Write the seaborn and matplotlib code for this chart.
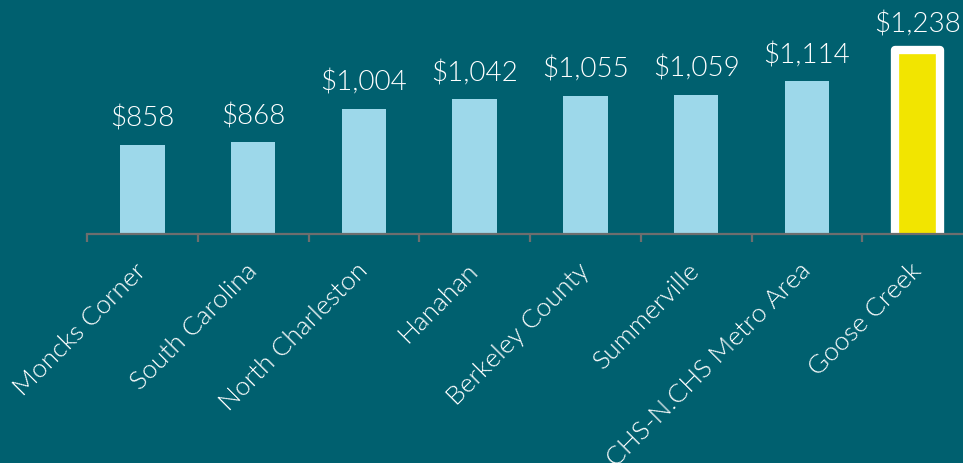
import matplotlib
matplotlib.use("Agg")
import matplotlib.pyplot as plt
import numpy as np
import pandas as pd
import seaborn as sns

# Median gross rent by place
places = [
    "Moncks Corner",
    "South Carolina",
    "North Charleston",
    "Hanahan",
    "Berkeley County",
    "Summerville",
    "CHS-N.CHS Metro Area",
    "Goose Creek",
]
rents = [858, 868, 1004, 1042, 1055, 1059, 1114, 1238]
highlight = "Goose Creek"

BG = "#00606f"
BAR = "#9dd8ea"
HIGHLIGHT = "#f2e500"
AXIS = "#6e6e6e"

sns.set_theme(style="white")
plt.rcParams["font.family"] = ["Lato", "DejaVu Sans"]

df = pd.DataFrame({"place": places, "rent": rents})
colors = [HIGHLIGHT if p == highlight else BAR for p in places]

fig = plt.figure(figsize=(9.63, 4.63), dpi=100, facecolor=BG)
ax = fig.add_axes([87 / 963, (463 - 234) / 463, (973 - 87) / 963, 234 / 463])
ax.set_facecolor(BG)

sns.barplot(data=df, x="place", y="rent", hue="place", palette=colors,
            width=0.4, saturation=1, legend=False, ax=ax, linewidth=0)

ax.set_xlim(-0.5, len(places) - 0.5)
ax.set_ylim(500, 1441)

for spine in ["top", "right", "left"]:
    ax.spines[spine].set_visible(False)
ax.spines["bottom"].set_color(AXIS)
ax.spines["bottom"].set_linewidth(1.6)

ax.set_yticks([])
ax.set_xlabel("")
ax.set_ylabel("")

# category labels at bar centres, separator ticks between categories
ax.set_xticks(range(len(places)))
ax.set_xticklabels(places, rotation=45, ha="right", va="center",
                   rotation_mode="anchor", color="white", fontsize=19,
                   fontweight=300)
ax.tick_params(axis="x", which="major", bottom=False, length=0, pad=24)
ax.set_xticks(np.arange(-0.5, len(places), 1), minor=True)
ax.tick_params(axis="x", which="minor", bottom=True, length=6, width=1.6,
               color=AXIS, direction="out")

# value labels and highlight frame
for patch, place, value in zip(sorted(ax.patches, key=lambda p: p.get_x()), places, rents):
    x = patch.get_x() + patch.get_width() / 2
    ax.annotate(f"${value:,.0f}", (x, value), xytext=(0, 13),
                textcoords="offset points", ha="center", va="baseline",
                color="white", fontsize=20, fontweight=300,
                annotation_clip=False)
    if place == highlight:
        patch.set_edgecolor("white")
        patch.set_linewidth(6)
        patch.set_joinstyle("round")

fig.savefig("out.png", dpi=100, facecolor=BG)
